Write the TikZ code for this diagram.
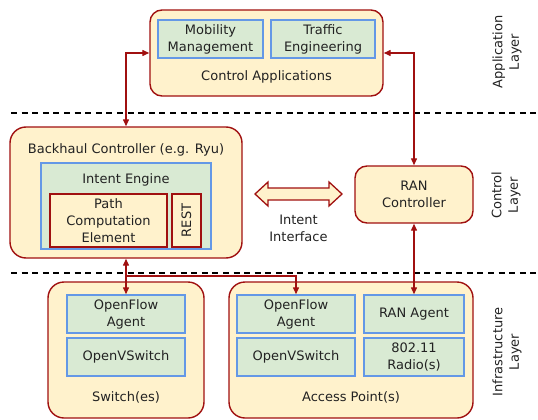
\documentclass[tikz,border=0pt]{standalone}
\usepackage{fontspec}
\setmainfont{DejaVu Sans}
\usetikzlibrary{arrows.meta}
\definecolor{bred}{RGB}{160,16,16}
\definecolor{byel}{RGB}{255,242,204}
\definecolor{bblue}{RGB}{100,152,230}
\definecolor{bgreen}{RGB}{217,234,211}
\definecolor{txt}{RGB}{34,34,34}
\begin{document}
\begin{tikzpicture}[x=1pt,y=-1pt,
  font=\fontsize{13}{17}\selectfont, text=txt,
  outer/.style={draw=bred, line width=1.4pt, fill=byel, rounded corners=14pt, inner sep=0pt},
  inner/.style={draw=bblue, line width=1.4pt, fill=bgreen, inner sep=0pt, align=center},
  redbox/.style={draw=bred, line width=1.4pt, fill=byel, inner sep=0pt, align=center},
  lbl/.style={inner sep=0pt, align=center},
  conn/.style={draw=bred, line width=1.3pt},
  tip/.tip={Triangle[length=7pt,width=6pt]},
  layerline/.style={line width=1.3pt, dash pattern=on 6pt off 4.6pt},
  layerlbl/.style={rotate=90, align=center, inner sep=0pt, font=\fontsize{13}{16.5}\selectfont}
]
\useasboundingbox (0,0) rectangle (538,420);

% layer separators
\draw[layerline] (11,113) -- (538,113);
\draw[layerline] (11,273) -- (538,273);
\node[layerlbl] (l1) at (507,52) {Application\\Layer};
\node[layerlbl] (l2) at (506,195) {Control\\Layer};
\node[layerlbl] (l3) at (507,352) {Infrastructure\\Layer};

% application layer
\node[outer, rounded corners=12pt, minimum width=233pt, minimum height=86pt] (apps) at (266.5,53) {};
\node[inner, minimum width=105pt, minimum height=38pt] (mob) at (210.5,39) {Mobility\\Management};
\node[inner, minimum width=104pt, minimum height=38pt] (te) at (323,39) {Traffic\\Engineering};
\node[lbl] (appst) at (266.5,77) {Control Applications};

% control layer
\node[outer, rounded corners=16pt, minimum width=232pt, minimum height=131pt] (bh) at (126,192.5) {};
\node[lbl] (bht) at (126,150) {Backhaul Controller (e.g. Ryu)};
\node[inner, minimum width=170pt, minimum height=86pt] (ie) at (126,206) {};
\node[lbl] (iet) at (126,180) {Intent Engine};
\node[redbox, minimum width=117pt, minimum height=53pt] (pce) at (108.5,220.5) {Path\\Computation\\Element};
\node[redbox, minimum width=29pt, minimum height=53pt] (rest) at (186.5,220.5) {};
\node[lbl, rotate=90] (restt) at (186.5,220.5) {REST};

\node[outer, rounded corners=12pt, minimum width=118pt, minimum height=57pt, align=center] (ranc) at (414,194.5) {RAN\\Controller};

\draw[draw=bred, line width=1.3pt, fill=byel, line join=miter]
  (255,194) -- (268,182) -- (268,188) -- (329,188) -- (329,182) -- (342,194)
  -- (329,206) -- (329,200) -- (268,200) -- (268,206) -- cycle;
\node[lbl] (iit) at (298.5,228) {Intent\\Interface};

% infrastructure layer
\node[outer, rounded corners=16pt, minimum width=156pt, minimum height=136pt] (sw) at (126,350) {};
\node[inner, minimum width=118pt, minimum height=38pt] (swof) at (126,314) {OpenFlow\\Agent};
\node[inner, minimum width=118pt, minimum height=38pt] (swovs) at (126,357) {OpenVSwitch};
\node[lbl] (swt) at (126,397) {Switch(es)};

\node[outer, rounded corners=16pt, minimum width=244pt, minimum height=136pt] (ap) at (351,350) {};
\node[inner, minimum width=118pt, minimum height=38pt] (apof) at (296,314) {OpenFlow\\Agent};
\node[inner, minimum width=118pt, minimum height=38pt] (apovs) at (296,357) {OpenVSwitch};
\node[inner, minimum width=100pt, minimum height=38pt] (ranag) at (414,314) {RAN Agent};
\node[inner, minimum width=100pt, minimum height=38pt] (radio) at (414,357) {802.11\\Radio(s)};
\node[lbl] (apt) at (351,397) {Access Point(s)};

% connectors
\draw[conn, {tip}-{tip}] (apps.west) -| (bh.north);
\draw[conn, {tip}-{tip}] (apps.east) -| (ranc.north);
\draw[conn, {tip}-{tip}] (bh.south) -- (swof.north);
\coordinate (jn) at (126,276);
\draw[conn, -{tip}] (jn) -| (apof.north);
\draw[conn, {tip}-{tip}] (ranc.south) -- (ranag.north);
\end{tikzpicture}
\end{document}
